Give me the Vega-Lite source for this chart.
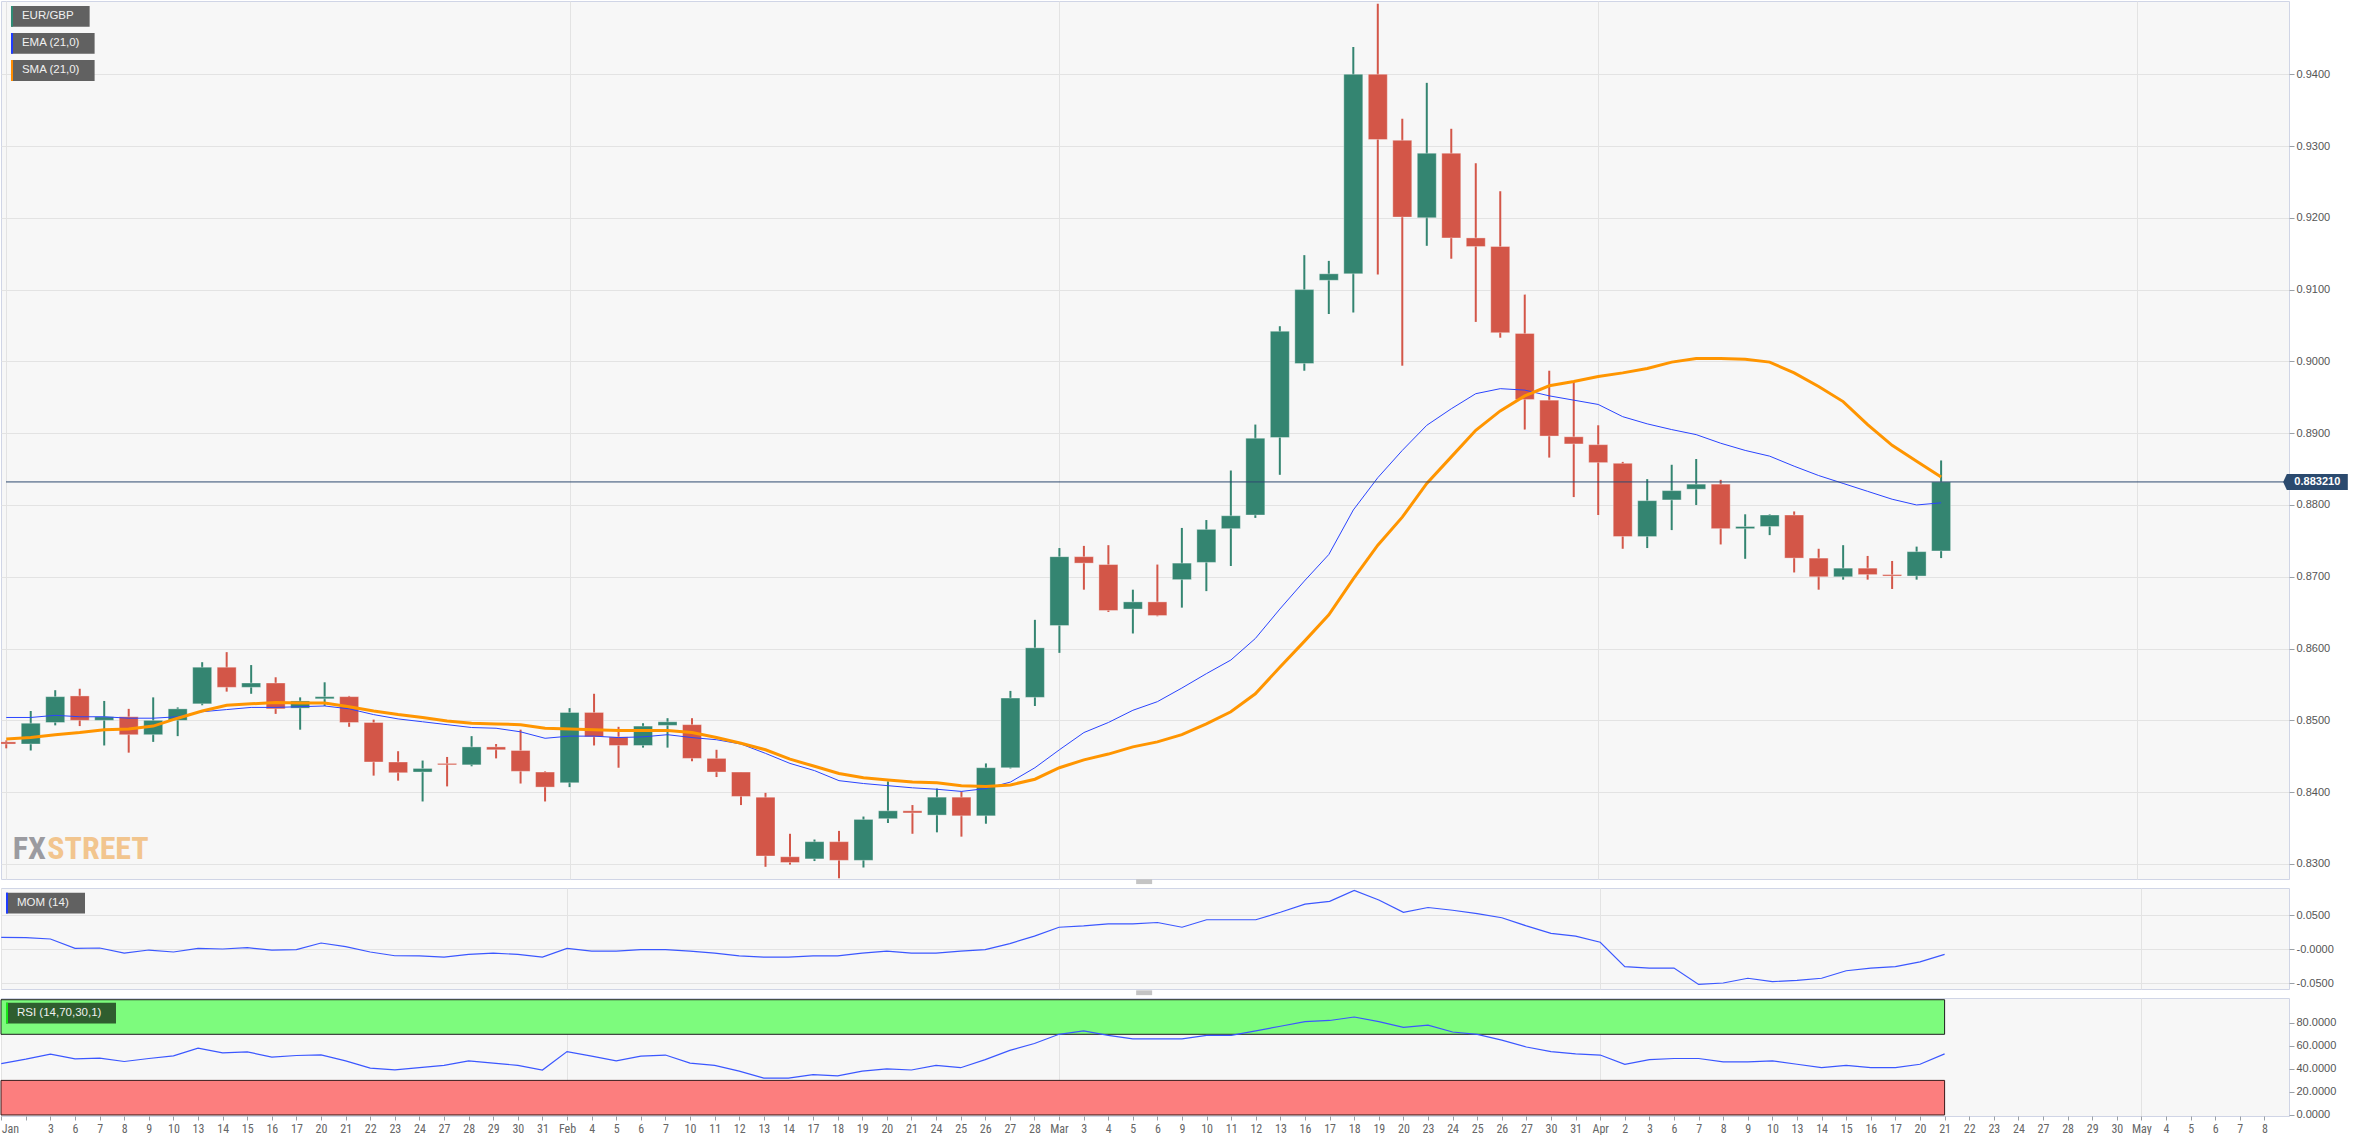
{
"$schema": "https://vega.github.io/schema/vega-lite/v6.json",
"padding": {"left": 0, "top": 0, "right": 0, "bottom": 0},
"background": "#ffffff",
"spacing": 9,
"bounds": "flush",
"config": {
  "view": {"fill": "#f7f7f7", "stroke": "#d0d5e6", "strokeWidth": 1},
  "axis": {"domain": false, "gridColor": "#e3e3e3", "gridWidth": 1, "tickColor": "#9aa0a6", "labelColor": "#555555", "labelFont": "Liberation Sans", "labelFontSize": 11, "title": null, "labelOverlap": false}
},
"datasets": {"d": [
{"i":0,"date":"2020-01-01","o":0.8470,"h":0.8472,"l":0.8461,"c":0.8467,"ema":0.8504,"sma":0.8474,"mom":0.0171,"rsi":44.6},
{"i":1,"date":"2020-01-02","o":0.8467,"h":0.8513,"l":0.8458,"c":0.8496,"ema":0.8504,"sma":0.8476,"mom":0.0166,"rsi":48.4},
{"i":2,"date":"2020-01-03","o":0.8497,"h":0.8542,"l":0.8493,"c":0.8533,"ema":0.8507,"sma":0.8480,"mom":0.0147,"rsi":52.8},
{"i":3,"date":"2020-01-06","o":0.8534,"h":0.8544,"l":0.8492,"c":0.8500,"ema":0.8505,"sma":0.8483,"mom":0.0009,"rsi":48.7},
{"i":4,"date":"2020-01-07","o":0.8500,"h":0.8527,"l":0.8465,"c":0.8505,"ema":0.8505,"sma":0.8487,"mom":0.0015,"rsi":49.3},
{"i":5,"date":"2020-01-08","o":0.8505,"h":0.8516,"l":0.8455,"c":0.8480,"ema":0.8503,"sma":0.8488,"mom":-0.0059,"rsi":46.4},
{"i":6,"date":"2020-01-09","o":0.8480,"h":0.8532,"l":0.8470,"c":0.8500,"ema":0.8503,"sma":0.8492,"mom":-0.0015,"rsi":49.0},
{"i":7,"date":"2020-01-10","o":0.8500,"h":0.8518,"l":0.8478,"c":0.8516,"ema":0.8505,"sma":0.8503,"mom":-0.0044,"rsi":51.3},
{"i":8,"date":"2020-01-13","o":0.8523,"h":0.8581,"l":0.8521,"c":0.8574,"ema":0.8512,"sma":0.8513,"mom":0.0009,"rsi":58.0},
{"i":9,"date":"2020-01-14","o":0.8574,"h":0.8595,"l":0.8540,"c":0.8546,"ema":0.8515,"sma":0.8521,"mom":0.0000,"rsi":53.9},
{"i":10,"date":"2020-01-15","o":0.8546,"h":0.8577,"l":0.8537,"c":0.8552,"ema":0.8518,"sma":0.8523,"mom":0.0019,"rsi":54.8},
{"i":11,"date":"2020-01-16","o":0.8552,"h":0.8560,"l":0.8509,"c":0.8516,"ema":0.8518,"sma":0.8525,"mom":-0.0015,"rsi":50.2},
{"i":12,"date":"2020-01-17","o":0.8517,"h":0.8532,"l":0.8487,"c":0.8527,"ema":0.8519,"sma":0.8524,"mom":-0.0010,"rsi":51.6},
{"i":13,"date":"2020-01-20","o":0.8530,"h":0.8553,"l":0.8520,"c":0.8533,"ema":0.8520,"sma":0.8524,"mom":0.0088,"rsi":52.2},
{"i":14,"date":"2020-01-21","o":0.8533,"h":0.8534,"l":0.8491,"c":0.8497,"ema":0.8516,"sma":0.8519,"mom":0.0034,"rsi":47.0},
{"i":15,"date":"2020-01-22","o":0.8497,"h":0.8501,"l":0.8423,"c":0.8442,"ema":0.8508,"sma":0.8513,"mom":-0.0044,"rsi":40.6},
{"i":16,"date":"2020-01-23","o":0.8442,"h":0.8457,"l":0.8416,"c":0.8427,"ema":0.8502,"sma":0.8508,"mom":-0.0099,"rsi":39.1},
{"i":17,"date":"2020-01-24","o":0.8428,"h":0.8444,"l":0.8387,"c":0.8433,"ema":0.8498,"sma":0.8504,"mom":-0.0100,"rsi":41},
{"i":18,"date":"2020-01-27","o":0.8440,"h":0.8449,"l":0.8408,"c":0.8438,"ema":0.8494,"sma":0.8499,"mom":-0.0120,"rsi":43},
{"i":19,"date":"2020-01-28","o":0.8438,"h":0.8478,"l":0.8436,"c":0.8463,"ema":0.8490,"sma":0.8496,"mom":-0.0080,"rsi":47},
{"i":20,"date":"2020-01-29","o":0.8463,"h":0.8467,"l":0.8447,"c":0.8459,"ema":0.8489,"sma":0.8495,"mom":-0.0060,"rsi":45},
{"i":21,"date":"2020-01-30","o":0.8458,"h":0.8487,"l":0.8412,"c":0.8429,"ema":0.8484,"sma":0.8494,"mom":-0.0080,"rsi":43},
{"i":22,"date":"2020-01-31","o":0.8428,"h":0.8429,"l":0.8387,"c":0.8407,"ema":0.8475,"sma":0.8489,"mom":-0.0120,"rsi":39},
{"i":23,"date":"2020-02-03","o":0.8413,"h":0.8517,"l":0.8407,"c":0.8511,"ema":0.8478,"sma":0.8488,"mom":0.0010,"rsi":55},
{"i":24,"date":"2020-02-04","o":0.8511,"h":0.8537,"l":0.8465,"c":0.8477,"ema":0.8478,"sma":0.8487,"mom":-0.0030,"rsi":51},
{"i":25,"date":"2020-02-05","o":0.8477,"h":0.8491,"l":0.8434,"c":0.8465,"ema":0.8476,"sma":0.8486,"mom":-0.0030,"rsi":47},
{"i":26,"date":"2020-02-06","o":0.8465,"h":0.8496,"l":0.8462,"c":0.8492,"ema":0.8477,"sma":0.8486,"mom":-0.0010,"rsi":51},
{"i":27,"date":"2020-02-07","o":0.8493,"h":0.8503,"l":0.8462,"c":0.8498,"ema":0.8480,"sma":0.8486,"mom":-0.0010,"rsi":52},
{"i":28,"date":"2020-02-10","o":0.8494,"h":0.8503,"l":0.8443,"c":0.8447,"ema":0.8476,"sma":0.8483,"mom":-0.0030,"rsi":45},
{"i":29,"date":"2020-02-11","o":0.8447,"h":0.8459,"l":0.8421,"c":0.8428,"ema":0.8473,"sma":0.8476,"mom":-0.0060,"rsi":43},
{"i":30,"date":"2020-02-12","o":0.8428,"h":0.8428,"l":0.8382,"c":0.8394,"ema":0.8467,"sma":0.8468,"mom":-0.0100,"rsi":38},
{"i":31,"date":"2020-02-13","o":0.8393,"h":0.8399,"l":0.8296,"c":0.8311,"ema":0.8454,"sma":0.8459,"mom":-0.0120,"rsi":32},
{"i":32,"date":"2020-02-14","o":0.8310,"h":0.8342,"l":0.8299,"c":0.8302,"ema":0.8440,"sma":0.8446,"mom":-0.0120,"rsi":32},
{"i":33,"date":"2020-02-17","o":0.8307,"h":0.8334,"l":0.8304,"c":0.8331,"ema":0.8430,"sma":0.8436,"mom":-0.0100,"rsi":35},
{"i":34,"date":"2020-02-18","o":0.8331,"h":0.8346,"l":0.8280,"c":0.8305,"ema":0.8416,"sma":0.8426,"mom":-0.0100,"rsi":34},
{"i":35,"date":"2020-02-19","o":0.8305,"h":0.8366,"l":0.8295,"c":0.8362,"ema":0.8412,"sma":0.8420,"mom":-0.0060,"rsi":38},
{"i":36,"date":"2020-02-20","o":0.8363,"h":0.8415,"l":0.8357,"c":0.8374,"ema":0.8409,"sma":0.8417,"mom":-0.0030,"rsi":40},
{"i":37,"date":"2020-02-21","o":0.8374,"h":0.8382,"l":0.8342,"c":0.8371,"ema":0.8406,"sma":0.8414,"mom":-0.0060,"rsi":39},
{"i":38,"date":"2020-02-24","o":0.8368,"h":0.8405,"l":0.8344,"c":0.8393,"ema":0.8404,"sma":0.8413,"mom":-0.0060,"rsi":43},
{"i":39,"date":"2020-02-25","o":0.8393,"h":0.8401,"l":0.8338,"c":0.8367,"ema":0.8401,"sma":0.8409,"mom":-0.0030,"rsi":41},
{"i":40,"date":"2020-02-26","o":0.8367,"h":0.8440,"l":0.8356,"c":0.8434,"ema":0.8405,"sma":0.8408,"mom":-0.0010,"rsi":48},
{"i":41,"date":"2020-02-27","o":0.8434,"h":0.8541,"l":0.8433,"c":0.8531,"ema":0.8414,"sma":0.8410,"mom":0.0080,"rsi":56},
{"i":42,"date":"2020-02-28","o":0.8532,"h":0.8640,"l":0.8520,"c":0.8601,"ema":0.8434,"sma":0.8418,"mom":0.0190,"rsi":62},
{"i":43,"date":"2020-03-02","o":0.8632,"h":0.8740,"l":0.8594,"c":0.8728,"ema":0.8459,"sma":0.8434,"mom":0.0320,"rsi":70},
{"i":44,"date":"2020-03-03","o":0.8728,"h":0.8743,"l":0.8682,"c":0.8719,"ema":0.8483,"sma":0.8445,"mom":0.0340,"rsi":73},
{"i":45,"date":"2020-03-04","o":0.8717,"h":0.8744,"l":0.8651,"c":0.8653,"ema":0.8497,"sma":0.8453,"mom":0.0370,"rsi":69},
{"i":46,"date":"2020-03-05","o":0.8655,"h":0.8682,"l":0.8621,"c":0.8665,"ema":0.8514,"sma":0.8463,"mom":0.0370,"rsi":66},
{"i":47,"date":"2020-03-06","o":0.8665,"h":0.8717,"l":0.8645,"c":0.8646,"ema":0.8526,"sma":0.8470,"mom":0.0390,"rsi":66},
{"i":48,"date":"2020-03-09","o":0.8696,"h":0.8768,"l":0.8657,"c":0.8719,"ema":0.8545,"sma":0.8480,"mom":0.0320,"rsi":66},
{"i":49,"date":"2020-03-10","o":0.8720,"h":0.8779,"l":0.8680,"c":0.8766,"ema":0.8565,"sma":0.8495,"mom":0.0430,"rsi":69},
{"i":50,"date":"2020-03-11","o":0.8767,"h":0.8848,"l":0.8715,"c":0.8785,"ema":0.8584,"sma":0.8512,"mom":0.0430,"rsi":69},
{"i":51,"date":"2020-03-12","o":0.8786,"h":0.8912,"l":0.8782,"c":0.8893,"ema":0.8614,"sma":0.8537,"mom":0.0430,"rsi":73},
{"i":52,"date":"2020-03-13","o":0.8894,"h":0.9049,"l":0.8842,"c":0.9042,"ema":0.8655,"sma":0.8574,"mom":0.0540,"rsi":77},
{"i":53,"date":"2020-03-16","o":0.8997,"h":0.9148,"l":0.8987,"c":0.9100,"ema":0.8694,"sma":0.8610,"mom":0.0660,"rsi":81},
{"i":54,"date":"2020-03-17","o":0.9113,"h":0.9140,"l":0.9066,"c":0.9122,"ema":0.8731,"sma":0.8647,"mom":0.0700,"rsi":82},
{"i":55,"date":"2020-03-18","o":0.9122,"h":0.9438,"l":0.9068,"c":0.9400,"ema":0.8793,"sma":0.8697,"mom":0.0860,"rsi":85},
{"i":56,"date":"2020-03-19","o":0.9400,"h":0.9498,"l":0.9121,"c":0.9309,"ema":0.8838,"sma":0.8744,"mom":0.0720,"rsi":81},
{"i":57,"date":"2020-03-20","o":0.9308,"h":0.9338,"l":0.8994,"c":0.9201,"ema":0.8876,"sma":0.8783,"mom":0.0540,"rsi":76},
{"i":58,"date":"2020-03-23","o":0.9200,"h":0.9388,"l":0.9161,"c":0.9290,"ema":0.8911,"sma":0.8830,"mom":0.0610,"rsi":78},
{"i":59,"date":"2020-03-24","o":0.9290,"h":0.9324,"l":0.9143,"c":0.9172,"ema":0.8934,"sma":0.8867,"mom":0.0570,"rsi":72},
{"i":60,"date":"2020-03-25","o":0.9172,"h":0.9276,"l":0.9055,"c":0.9160,"ema":0.8955,"sma":0.8904,"mom":0.0520,"rsi":70},
{"i":61,"date":"2020-03-26","o":0.9160,"h":0.9237,"l":0.9033,"c":0.9040,"ema":0.8962,"sma":0.8931,"mom":0.0460,"rsi":65},
{"i":62,"date":"2020-03-27","o":0.9039,"h":0.9093,"l":0.8905,"c":0.8947,"ema":0.8960,"sma":0.8952,"mom":0.0340,"rsi":59},
{"i":63,"date":"2020-03-30","o":0.8946,"h":0.8987,"l":0.8866,"c":0.8896,"ema":0.8952,"sma":0.8966,"mom":0.0230,"rsi":55},
{"i":64,"date":"2020-03-31","o":0.8895,"h":0.8971,"l":0.8811,"c":0.8885,"ema":0.8946,"sma":0.8972,"mom":0.0190,"rsi":53},
{"i":65,"date":"2020-04-01","o":0.8884,"h":0.8911,"l":0.8786,"c":0.8859,"ema":0.8940,"sma":0.8979,"mom":0.0100,"rsi":52},
{"i":66,"date":"2020-04-02","o":0.8858,"h":0.8860,"l":0.8739,"c":0.8756,"ema":0.8923,"sma":0.8984,"mom":-0.0260,"rsi":44},
{"i":67,"date":"2020-04-03","o":0.8756,"h":0.8836,"l":0.8740,"c":0.8806,"ema":0.8913,"sma":0.8990,"mom":-0.0280,"rsi":48},
{"i":68,"date":"2020-04-06","o":0.8807,"h":0.8856,"l":0.8765,"c":0.8820,"ema":0.8905,"sma":0.8999,"mom":-0.0280,"rsi":49},
{"i":69,"date":"2020-04-07","o":0.8822,"h":0.8864,"l":0.8800,"c":0.8829,"ema":0.8898,"sma":0.9004,"mom":-0.0520,"rsi":49},
{"i":70,"date":"2020-04-08","o":0.8829,"h":0.8835,"l":0.8745,"c":0.8767,"ema":0.8886,"sma":0.9004,"mom":-0.0500,"rsi":46},
{"i":71,"date":"2020-04-09","o":0.8767,"h":0.8787,"l":0.8725,"c":0.8770,"ema":0.8876,"sma":0.9003,"mom":-0.0430,"rsi":46},
{"i":72,"date":"2020-04-10","o":0.8770,"h":0.8787,"l":0.8758,"c":0.8786,"ema":0.8868,"sma":0.8999,"mom":-0.0480,"rsi":47},
{"i":73,"date":"2020-04-13","o":0.8786,"h":0.8791,"l":0.8706,"c":0.8726,"ema":0.8854,"sma":0.8984,"mom":-0.0460,"rsi":44},
{"i":74,"date":"2020-04-14","o":0.8726,"h":0.8739,"l":0.8682,"c":0.8700,"ema":0.8841,"sma":0.8965,"mom":-0.0430,"rsi":41},
{"i":75,"date":"2020-04-15","o":0.8700,"h":0.8744,"l":0.8696,"c":0.8712,"ema":0.8830,"sma":0.8944,"mom":-0.0320,"rsi":43},
{"i":76,"date":"2020-04-16","o":0.8712,"h":0.8729,"l":0.8696,"c":0.8703,"ema":0.8819,"sma":0.8912,"mom":-0.0280,"rsi":41},
{"i":77,"date":"2020-04-17","o":0.8703,"h":0.8722,"l":0.8683,"c":0.8701,"ema":0.8808,"sma":0.8883,"mom":-0.0260,"rsi":41},
{"i":78,"date":"2020-04-20","o":0.8701,"h":0.8742,"l":0.8696,"c":0.8735,"ema":0.8800,"sma":0.8861,"mom":-0.0190,"rsi":44},
{"i":79,"date":"2020-04-21","o":0.8736,"h":0.8862,"l":0.8726,"c":0.88321,"ema":0.8803,"sma":0.8839,"mom":-0.0080,"rsi":53}
]},
"vconcat": [
{
  "width": 2288, "height": 878,
  "layer": [
    {"data": {"name": "d"},
     "mark": {"type": "rule", "strokeWidth": 2, "clip": true},
     "encoding": {
       "x": {"field": "i", "type": "quantitative", "title": null, "scale": {"domain": [-0.01, 93], "nice": false, "zero": false}, "axis": {"values": [0, 23, 43, 65, 87], "tickCount": 200, "grid": true, "labels": false, "ticks": false, "domain": false, "title": null}},
       "y": {"field": "l", "type": "quantitative", "title": null, "scale": {"domain": [0.8279, 0.9502], "nice": false, "zero": false}, "axis": {"orient": "right", "values": [0.83, 0.84, 0.85, 0.86, 0.87, 0.88, 0.89, 0.90, 0.91, 0.92, 0.93, 0.94], "tickCount": 200, "format": ".4f", "tickSize": 5, "labelPadding": 2, "labelOverlap": false, "title": null}},
       "y2": {"field": "h"},
       "color": {"condition": {"test": "datum.c >= datum.o", "value": "#348571"}, "value": "#d35648"}
     }},
    {"data": {"name": "d"},
     "mark": {"type": "bar", "size": 19, "clip": true, "stroke": "#ffffff", "strokeOpacity": 0.35, "strokeWidth": 1},
     "encoding": {
       "x": {"field": "i", "type": "quantitative"},
       "y": {"field": "o", "type": "quantitative", "title": null},
       "y2": {"field": "c"},
       "color": {"condition": {"test": "datum.c >= datum.o", "value": "#348571"}, "value": "#d35648"}
     }},
    {"data": {"name": "d"},
     "mark": {"type": "line", "color": "#2a44ff", "strokeWidth": 1, "clip": true},
     "encoding": {"x": {"field": "i", "type": "quantitative"}, "y": {"field": "ema", "type": "quantitative", "title": null}}},
    {"data": {"name": "d"},
     "mark": {"type": "line", "color": "#ff9500", "strokeWidth": 3, "clip": true},
     "encoding": {"x": {"field": "i", "type": "quantitative"}, "y": {"field": "sma", "type": "quantitative", "title": null}}},
    {"data": {"name": "d"}, "transform": [{"filter": "datum.i == 79"}],
     "mark": {"type": "rule", "color": "#2d4a6f", "strokeWidth": 1},
     "encoding": {"x": {"datum": -0.01}, "x2": {"datum": 93}, "y": {"field": "c", "type": "quantitative", "title": null}}},
    {"data": {"name": "d"}, "transform": [{"filter": "datum.i == 79"}],
     "mark": {"type": "point", "shape": "M-1.12,0L-1,-0.262H1V0.262H-1Z", "size": 3721, "filled": true, "fill": "#2b4a6e", "opacity": 1, "strokeWidth": 0},
     "encoding": {"x": {"datum": 94.36}, "y": {"field": "c", "type": "quantitative", "title": null}}},
    {"data": {"name": "d"}, "transform": [{"filter": "datum.i == 79"}],
     "mark": {"type": "text", "color": "#ffffff", "fontWeight": "bold", "fontSize": 11, "font": "Liberation Sans", "align": "center", "baseline": "middle"},
     "encoding": {"x": {"datum": 94.36}, "y": {"field": "c", "type": "quantitative", "title": null}, "text": {"field": "c", "type": "quantitative", "format": ".6f"}}},
    {"data": {"values": [{}]}, "mark": {"type": "rect", "fill": "#616161"},
     "encoding": {"x": {"datum": 0.193}, "x2": {"datum": 3.405}, "y": {"datum": 0.9495}, "y2": {"datum": 0.94662}}},
    {"data": {"values": [{}]}, "mark": {"type": "rect", "fill": "#2e8b74"},
     "encoding": {"x": {"datum": 0.193}, "x2": {"datum": 0.275}, "y": {"datum": 0.9495}, "y2": {"datum": 0.94662}}},
    {"data": {"values": [{}]}, "mark": {"type": "text", "text": "EUR/GBP", "align": "left", "baseline": "middle", "color": "#f0f0f0", "fontSize": 11.5, "font": "Liberation Sans"},
     "encoding": {"x": {"datum": 0.64}, "y": {"datum": 0.94806}}},
    {"data": {"values": [{}]}, "mark": {"type": "rect", "fill": "#616161"},
     "encoding": {"x": {"datum": 0.193}, "x2": {"datum": 3.608}, "y": {"datum": 0.94574}, "y2": {"datum": 0.94286}}},
    {"data": {"values": [{}]}, "mark": {"type": "rect", "fill": "#1f3cff"},
     "encoding": {"x": {"datum": 0.193}, "x2": {"datum": 0.275}, "y": {"datum": 0.94574}, "y2": {"datum": 0.94286}}},
    {"data": {"values": [{}]}, "mark": {"type": "text", "text": "EMA (21,0)", "align": "left", "baseline": "middle", "color": "#f0f0f0", "fontSize": 11.5, "font": "Liberation Sans"},
     "encoding": {"x": {"datum": 0.64}, "y": {"datum": 0.9443}}},
    {"data": {"values": [{}]}, "mark": {"type": "rect", "fill": "#616161"},
     "encoding": {"x": {"datum": 0.193}, "x2": {"datum": 3.608}, "y": {"datum": 0.94198}, "y2": {"datum": 0.93906}}},
    {"data": {"values": [{}]}, "mark": {"type": "rect", "fill": "#ff8c00"},
     "encoding": {"x": {"datum": 0.193}, "x2": {"datum": 0.275}, "y": {"datum": 0.94198}, "y2": {"datum": 0.93906}}},
    {"data": {"values": [{}]}, "mark": {"type": "text", "text": "SMA (21,0)", "align": "left", "baseline": "middle", "color": "#f0f0f0", "fontSize": 11.5, "font": "Liberation Sans"},
     "encoding": {"x": {"datum": 0.64}, "y": {"datum": 0.94052}}},
    {"data": {"values": [{}]}, "mark": {"type": "text", "text": "FX", "align": "right", "baseline": "alphabetic", "color": "#9b9ba0", "fontSize": 32, "fontWeight": "bold", "font": "Roboto Condensed, Liberation Sans Narrow, DejaVu Sans Condensed, Liberation Sans, sans-serif"},
     "encoding": {"x": {"datum": 1.616}, "y": {"datum": 0.83069}}},
    {"data": {"values": [{}]}, "mark": {"type": "text", "text": "STREET", "align": "left", "baseline": "alphabetic", "color": "#f2c58e", "fontSize": 32, "fontWeight": "bold", "font": "Roboto Condensed, Liberation Sans Narrow, DejaVu Sans Condensed, Liberation Sans, sans-serif"},
     "encoding": {"x": {"datum": 1.677}, "y": {"datum": 0.83069}}}
  ]
},
{
  "width": 2288, "height": 101,
  "layer": [
    {"data": {"name": "d"},
     "mark": {"type": "line", "color": "#3b57ff", "strokeWidth": 1.2, "clip": true},
     "encoding": {
       "x": {"field": "i", "type": "quantitative", "title": null, "scale": {"domain": [-0.01, 93], "nice": false, "zero": false}, "axis": {"values": [0, 23, 43, 65, 87], "tickCount": 200, "grid": true, "labels": false, "ticks": false, "domain": false, "title": null}},
       "y": {"field": "mom", "type": "quantitative", "title": null, "scale": {"domain": [-0.0588, 0.0897], "nice": false, "zero": false}, "axis": {"orient": "right", "values": [-0.05, 0, 0.05], "tickCount": 200, "labelExpr": "datum.value == 0 ? '-0.0000' : replace(format(datum.value, '.4f'), '\u2212', '-')", "tickSize": 5, "labelPadding": 2, "labelOverlap": false, "title": null}}
     }},
    {"data": {"values": [{}]}, "mark": {"type": "rect", "fill": "#616161"},
     "encoding": {"x": {"datum": 0.193}, "x2": {"datum": 3.405}, "y": {"datum": 0.0828}, "y2": {"datum": 0.0523}}},
    {"data": {"values": [{}]}, "mark": {"type": "rect", "fill": "#1f3cff"},
     "encoding": {"x": {"datum": 0.193}, "x2": {"datum": 0.275}, "y": {"datum": 0.0828}, "y2": {"datum": 0.0523}}},
    {"data": {"values": [{}]}, "mark": {"type": "text", "text": "MOM (14)", "align": "left", "baseline": "middle", "color": "#f0f0f0", "fontSize": 11.5, "font": "Liberation Sans"},
     "encoding": {"x": {"datum": 0.64}, "y": {"datum": 0.0676}}},
    {"data": {"values": [{}]}, "mark": {"type": "point", "shape": "M-1,-0.3H1V0.3H-1Z", "size": 256, "filled": true, "fill": "#c4c4c4", "opacity": 1, "strokeWidth": 0},
     "encoding": {"x": {"datum": 46.46}, "y": {"datum": 0.0990}}},
    {"data": {"values": [{}]}, "mark": {"type": "point", "shape": "M-1,-0.3H1V0.3H-1Z", "size": 256, "filled": true, "fill": "#c4c4c4", "opacity": 1, "strokeWidth": 0},
     "encoding": {"x": {"datum": 46.46}, "y": {"datum": -0.0643}}}
  ]
},
{
  "width": 2288, "height": 118,
  "layer": [
    {"data": {"values": [{}]}, "mark": {"type": "rect", "fill": "#7dfb7d", "stroke": "#1e1e1e", "strokeWidth": 1},
     "encoding": {
       "x": {"datum": -0.01, "type": "quantitative", "title": null, "scale": {"domain": [-0.01, 93], "nice": false, "zero": false},
             "axis": {"values": [0,1,2,3,4,5,6,7,8,9,10,11,12,13,14,15,16,17,18,19,20,21,22,23,24,25,26,27,28,29,30,31,32,33,34,35,36,37,38,39,40,41,42,43,44,45,46,47,48,49,50,51,52,53,54,55,56,57,58,59,60,61,62,63,64,65,66,67,68,69,70,71,72,73,74,75,76,77,78,79,80,81,82,83,84,85,86,87,88,89,90,91,92],
                      "tickCount": 200,
                      "labelExpr": "['Jan','','3','6','7','8','9','10','13','14','15','16','17','20','21','22','23','24','27','28','29','30','31','Feb','4','5','6','7','10','11','12','13','14','17','18','19','20','21','24','25','26','27','28','Mar','3','4','5','6','9','10','11','12','13','16','17','18','19','20','23','24','25','26','27','30','31','Apr','2','3','6','7','8','9','10','13','14','15','16','17','20','21','22','23','24','27','28','29','30','May','4','5','6','7','8'][datum.value]",
                      "grid": true, "gridOpacity": {"condition": {"test": "indexof([0,23,43,65,87], datum.value) >= 0", "value": 1}, "value": 0},
                      "tickSize": 4, "labelPadding": 3, "labelFont": "Liberation Sans Narrow, Roboto Condensed, DejaVu Sans Condensed, Liberation Sans, sans-serif", "labelFontSize": 12, "labelColor": "#666666", "labelFlush": 1, "labelOverlap": false, "labelBound": false, "domain": false, "title": null}},
       "x2": {"datum": 79},
       "y": {"datum": 70, "type": "quantitative", "title": null, "scale": {"domain": [-0.9, 101.5], "nice": false, "zero": false}, "axis": {"orient": "right", "values": [0, 20, 40, 60, 80], "tickCount": 200, "format": ".4f", "tickSize": 5, "labelPadding": 2, "labelOverlap": false, "title": null}},
       "y2": {"datum": 100}
     }},
    {"data": {"values": [{}]}, "mark": {"type": "rect", "fill": "#fc7e7e", "stroke": "#3a1a1a", "strokeWidth": 1},
     "encoding": {"x": {"datum": -0.01}, "x2": {"datum": 79}, "y": {"datum": 0}, "y2": {"datum": 30}}},
    {"data": {"name": "d"},
     "mark": {"type": "line", "color": "#3b57ff", "strokeWidth": 1.2, "clip": true},
     "encoding": {"x": {"field": "i", "type": "quantitative", "title": null}, "y": {"field": "rsi", "type": "quantitative", "title": null}}},
    {"data": {"values": [{}]}, "mark": {"type": "rect", "fill": "#2f5e2f"},
     "encoding": {"x": {"datum": 0.193}, "x2": {"datum": 4.665}, "y": {"datum": 97.4}, "y2": {"datum": 79.46}}},
    {"data": {"values": [{}]}, "mark": {"type": "rect", "fill": "#19e619"},
     "encoding": {"x": {"datum": 0.193}, "x2": {"datum": 0.275}, "y": {"datum": 97.4}, "y2": {"datum": 79.46}}},
    {"data": {"values": [{}]}, "mark": {"type": "text", "text": "RSI (14,70,30,1)", "align": "left", "baseline": "middle", "color": "#f0f0f0", "fontSize": 11.5, "font": "Liberation Sans"},
     "encoding": {"x": {"datum": 0.64}, "y": {"datum": 88.5}}}
  ]
}
]
}
